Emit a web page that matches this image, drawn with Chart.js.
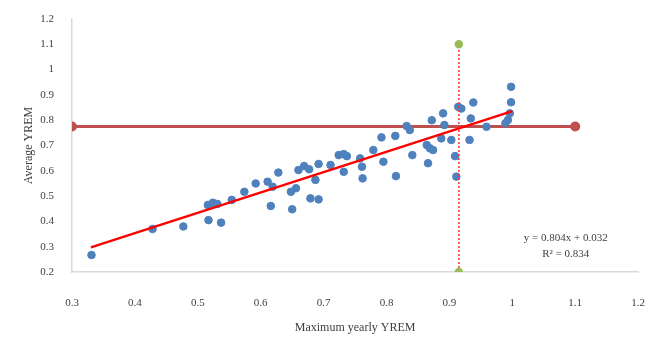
<!DOCTYPE html>
<html>
<head>
<meta charset="utf-8">
<script src="https://cdn.jsdelivr.net/npm/chart.js@4.4.1/dist/chart.umd.min.js"></script>
<style>
  html, body { margin: 0; padding: 0; background: #fff; }
  #wrap { width: 662px; height: 339px; }
</style>
</head>
<body>
<div id="wrap"><canvas id="myChart" width="662" height="339"></canvas></div>
<script>
// scatter points (max yearly YREM vs average YREM)
const maxYrem = [0.331, 0.428, 0.477, 0.516, 0.524, 0.531, 0.517, 0.537, 0.554, 0.574,
    0.592, 0.611, 0.619, 0.616, 0.628, 0.648, 0.656, 0.650, 0.660, 0.669,
    0.677, 0.687, 0.692, 0.679, 0.692, 0.711, 0.724, 0.732, 0.737, 0.732,
    0.758, 0.761, 0.762, 0.779, 0.792, 0.795, 0.814, 0.815, 0.832, 0.837,
    0.841, 0.872, 0.890, 0.892, 0.864, 0.869, 0.874, 0.866, 0.887, 0.903,
    0.909, 0.911, 0.914, 0.919, 0.938, 0.934, 0.932, 0.959, 0.998, 0.998,
    0.996, 0.993, 0.989];
const avgYrem = [0.267, 0.370, 0.380, 0.465, 0.474, 0.469, 0.405, 0.395, 0.485, 0.517,
    0.550, 0.557, 0.537, 0.461, 0.593, 0.517, 0.531, 0.448, 0.603, 0.619,
    0.606, 0.564, 0.627, 0.491, 0.487, 0.623, 0.662, 0.666, 0.658, 0.596,
    0.649, 0.616, 0.570, 0.682, 0.732, 0.636, 0.738, 0.579, 0.777, 0.761,
    0.662, 0.800, 0.827, 0.781, 0.702, 0.689, 0.682, 0.630, 0.728, 0.722,
    0.658, 0.577, 0.853, 0.846, 0.870, 0.807, 0.722, 0.774, 0.932, 0.871,
    0.827, 0.801, 0.788];

// linear trend
const trendSlope = 0.804;
const trendIntercept = 0.032;
const trendRange = [0.33, 1.0];
const trendLabels = ['y = 0.804x + 0.032', 'R\u00b2 = 0.834'];

// reference lines
const refLevel = 0.775;
const refRange = [0.3, 1.1];
const cutX = 0.915;
const cutRange = [0.2, 1.1];

const xTicks = [0.3, 0.4, 0.5, 0.6, 0.7, 0.8, 0.9, 1, 1.1, 1.2];
const yTicks = [0.2, 0.3, 0.4, 0.5, 0.6, 0.7, 0.8, 0.9, 1, 1.1, 1.2];

const points = maxYrem.map((x, i) => ({ x: x, y: avgYrem[i] }));
const trendPts = trendRange.map(x => ({ x: x, y: trendSlope * x + trendIntercept }));
const refPts = refRange.map(x => ({ x: x, y: refLevel }));
const cutPts = cutRange.map(y => ({ x: cutX, y: y }));

const serif = '"Liberation Serif", "Times New Roman", serif';

const eqPlugin = {
    id: 'eqText',
    afterDatasetsDraw(chart) {
        const c = chart.ctx;
        const xs = chart.scales.x, ys = chart.scales.y;
        c.save();
        c.font = '11px ' + serif;
        c.fillStyle = '#404040';
        c.textAlign = 'center';
        c.textBaseline = 'middle';
        c.fillText(trendLabels[0], xs.getPixelForValue(1.085), ys.getPixelForValue(0.335));
        c.fillText(trendLabels[1], xs.getPixelForValue(1.085), ys.getPixelForValue(0.272));
        c.restore();
    }
};

const ctx = document.getElementById('myChart').getContext('2d');
const myChart = new Chart(ctx, {
    type: 'scatter',
    data: {
        datasets: [
            {
                data: refPts,
                showLine: true,
                borderColor: '#C0504D',
                backgroundColor: '#C0504D',
                borderWidth: 3,
                pointRadius: 3.5,
                order: 3
            },
            {
                data: points,
                backgroundColor: '#4F81BD',
                borderColor: '#4F81BD',
                pointRadius: 3.8,
                order: 2
            },
            {
                data: trendPts,
                showLine: true,
                borderColor: '#FF0000',
                borderWidth: 2.5,
                pointRadius: 0,
                order: 1
            },
            {
                data: cutPts,
                showLine: true,
                borderColor: '#FF3030',
                borderWidth: 1.5,
                borderDash: [2, 2],
                backgroundColor: '#9BBB59',
                pointBorderColor: '#9BBB59',
                pointRadius: 3.5,
                order: 0
            }
        ]
    },
    options: {
        responsive: false,
        animation: false,
        layout: { padding: { left: 18, top: 19, right: 21, bottom: 0 } },
        plugins: {
            legend: { display: false },
            tooltip: { enabled: false }
        },
        scales: {
            x: {
                type: 'linear',
                min: 0.3,
                max: 1.2,
                afterBuildTicks: s => { s.ticks = xTicks.map(v => ({ value: v })); },
                afterFit: s => { s.height = 67; },
                grid: { display: false },
                border: { display: true, color: '#D9D9D9', width: 1.5 },
                ticks: {
                    padding: 17,
                    color: '#404040',
                    font: { family: serif, size: 11 },
                    callback: v => String(+v.toFixed(1))
                },
                title: {
                    display: true,
                    text: 'Maximum yearly YREM',
                    color: '#404040',
                    font: { family: serif, size: 12 },
                    padding: { top: 4 }
                }
            },
            y: {
                type: 'linear',
                min: 0.2,
                max: 1.2,
                afterBuildTicks: s => { s.ticks = yTicks.map(v => ({ value: v })); },
                afterFit: s => { s.width = 54; },
                grid: { display: false },
                border: { display: true, color: '#D9D9D9', width: 1.5 },
                ticks: {
                    padding: 10,
                    color: '#404040',
                    font: { family: serif, size: 11 },
                    callback: v => String(+v.toFixed(1))
                },
                title: {
                    display: true,
                    text: 'Average YREM',
                    color: '#404040',
                    font: { family: serif, size: 12 },
                    padding: { top: 4, bottom: 4 }
                }
            }
        }
    },
    plugins: [eqPlugin]
});
</script>
</body>
</html>
